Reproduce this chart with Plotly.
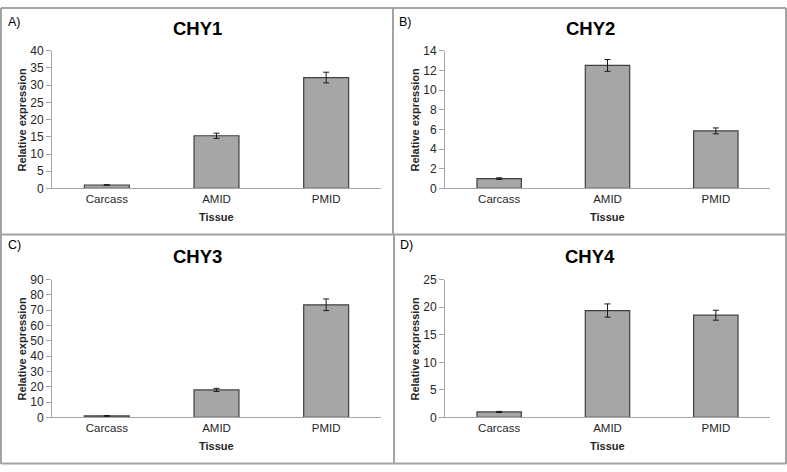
import plotly.graph_objects as go

W, H = 787, 472

categories = ["Carcass", "AMID", "PMID"]
titles = ["CHY1", "CHY2", "CHY3", "CHY4"]
panel_tags = ["A)", "B)", "C)", "D)"]

chy1 = [1.0, 15.3, 32.2]
chy1_err = [0.1, 0.75, 1.55]
chy2 = [1.0, 12.5, 5.85]
chy2_err = [0.08, 0.6, 0.3]
chy3 = [1.0, 18.0, 73.6]
chy3_err = [0.25, 1.0, 3.8]
chy4 = [1.0, 19.4, 18.55]
chy4_err = [0.1, 1.2, 0.9]

y_max = [40, 14, 90, 25]
y_step = [5, 2, 10, 5]

values = [chy1, chy2, chy3, chy4]
errors = [chy1_err, chy2_err, chy3_err, chy4_err]

# pixel layout of each panel: (x_left, x_right, y_bottom, y_top)
boxes = [(52, 381, 187, 45), (445, 770, 187, 45),
         (52, 381, 423, 281), (445, 770, 423, 281)]
title_pos = [(197, 22), (590, 22), (197, 257), (590, 257)]
tag_pos = [(6, 15), (397, 15), (6, 245), (398, 245)]
xlab_y = [216, 216, 452, 452]
ylab_x = [22, 415, 22, 415]

FONT = "Liberation Sans, Arial, sans-serif"

def px(x):
    return x / W

def py(y):
    return 1 - y / H

fig = go.Figure()
layout = dict(
    width=W, height=H, margin=dict(l=0, r=0, t=0, b=0),
    paper_bgcolor="white", plot_bgcolor="white", showlegend=False,
    font=dict(family=FONT, color="#262626"),
    bargap=0.59,
)
annotations = []
shapes = []

for i in range(4):
    n = "" if i == 0 else str(i + 1)
    xa, ya = "x" + n, "y" + n
    fig.add_trace(go.Bar(
        x=categories, y=values[i], xaxis=xa, yaxis=ya,
        width=0.41,
        marker=dict(color="#a6a6a6", line=dict(color="#404040", width=1.2)),
        error_y=dict(type="data", array=errors[i], visible=True,
                     color="#1a1a1a", thickness=1, width=3),
        hoverinfo="skip",
    ))
    xl, xr, yb, yt = boxes[i]
    layout["xaxis" + n] = dict(
        domain=[px(xl), px(xr)], anchor=ya, showline=True, linecolor="#a6a6a6",
        linewidth=1, ticks="", showgrid=False, zeroline=False,
        tickfont=dict(size=11.5, family=FONT, color="#262626"),
        fixedrange=True,
    )
    layout["yaxis" + n] = dict(
        domain=[py(yb), py(yt)], anchor=xa, range=[0, y_max[i]],
        dtick=y_step[i], tick0=0, showline=True, linecolor="#a6a6a6",
        linewidth=1, ticks="outside", ticklen=5, tickcolor="#a6a6a6",
        showgrid=False, zeroline=False,
        tickfont=dict(size=12, family=FONT, color="#262626"),
        fixedrange=True,
    )
    tx, ty = title_pos[i]
    annotations.append(dict(text="<b>%s</b>" % titles[i], x=px(tx), y=py(ty),
                            xref="paper", yref="paper", showarrow=False,
                            xanchor="center", yanchor="middle",
                            font=dict(size=18.5, family=FONT, color="black")))
    gx, gy = tag_pos[i]
    annotations.append(dict(text=panel_tags[i], x=px(gx), y=py(gy),
                            xref="paper", yref="paper", showarrow=False,
                            xanchor="left", yanchor="middle",
                            font=dict(size=12.5, family=FONT, color="black")))
    annotations.append(dict(text="<b>Tissue</b>", x=px((xl + xr) / 2), y=py(xlab_y[i]),
                            xref="paper", yref="paper", showarrow=False,
                            xanchor="center", yanchor="middle",
                            font=dict(size=11, family=FONT, color="#262626")))
    annotations.append(dict(text="<b>Relative expression</b>", x=px(ylab_x[i]),
                            y=py((yb + yt) / 2), xref="paper", yref="paper",
                            showarrow=False, textangle=-90,
                            xanchor="center", yanchor="middle",
                            font=dict(size=11, family=FONT, color="#262626")))

border = dict(color="#a3a3a3", width=2)
def line(x0, y0, x1, y1):
    shapes.append(dict(type="line", xref="paper", yref="paper",
                       x0=px(x0), y0=py(y0), x1=px(x1), y1=py(y1), line=border))

line(1, 1, 786, 1)
line(1, 1, 1, 471)
line(786, 1, 786, 471)
line(1, 470.5, 786, 470.5)
line(1, 234.5, 786, 234.5)
line(393, 1, 393, 234.5)
line(394, 234.5, 394, 471)

layout["annotations"] = annotations
layout["shapes"] = shapes
fig.update_layout(**layout)

fix_page = (
    "document.documentElement.style.margin='0';"
    "document.documentElement.style.overflow='hidden';"
    "document.body.style.margin='0';"
    "document.body.style.overflow='hidden';"
    "var d=document.querySelector('.plotly-graph-div');"
    "d.style.position='fixed';d.style.top='0px';d.style.left='0px';"
)
fig.write_html("out.html", config={"displayModeBar": False}, post_script=fix_page)
